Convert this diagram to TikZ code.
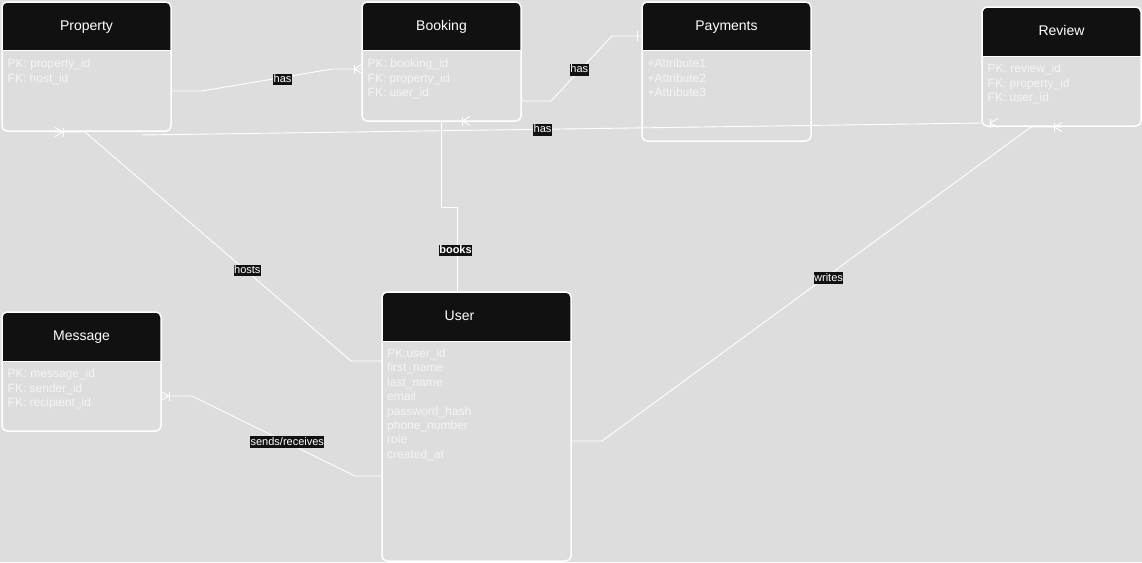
\documentclass[tikz,border=0pt]{standalone}
\usepackage{fontspec}
\setmainfont{Liberation Sans}
\definecolor{bgcol}{HTML}{DDDDDD}
\definecolor{hdrcol}{HTML}{111111}
\tikzset{
  hdr height/.store in=\hdrh, hdr height=48,
  entity/.style={draw=white, line width=1.5pt, rounded corners=5pt, anchor=north west,
    inner sep=0pt, outer sep=0pt,
    path picture={\fill[hdrcol, sharp corners] (path picture bounding box.north west)
        rectangle ([yshift=-\hdrh pt]path picture bounding box.north east);
      \draw[white, line width=0.8pt, sharp corners] ([yshift=-\hdrh pt]path picture bounding box.north west)
        -- ([yshift=-\hdrh pt]path picture bounding box.north east);}},
  title/.style={anchor=base, text=white, inner sep=0pt, font=\fontsize{14}{16}\selectfont},
  rows/.style={anchor=north west, text=white!96!black, align=left, inner sep=0pt, font=\fontsize{12}{14.4}\selectfont},
  conn/.style={draw=white, line width=0.9pt},
  rel/.style={fill=hdrcol, text=white, inner xsep=0.5pt, inner ysep=0.5pt,
    text height=8.3pt, text depth=2.5pt, font=\fontsize{11}{13}\selectfont},
  many/.pic={\draw[conn] (0,-4.5) -- (-8,0) -- (0,4.5); \draw[conn] (-8,-4.5) -- (-8,4.5);},
  one/.pic={\draw[conn] (-5,-5) -- (-5,5);}
}
\begin{document}
\begin{tikzpicture}[x=1pt, y=-1pt]
\useasboundingbox (0,0) rectangle (1142,562);
\fill[bgcol] (0,0) rectangle (1142,562);

% Draw entities
\node[entity, minimum width=169pt, minimum height=129pt] (prop) at (2,2) {};
\node[entity, minimum width=159pt, minimum height=119pt] (book) at (362,2) {};
\node[entity, minimum width=169pt, minimum height=139pt] (pay) at (642,2) {};
\node[entity, hdr height=49, minimum width=159pt, minimum height=119pt] (rev) at (982,7) {};
\node[entity, hdr height=49, minimum width=159pt, minimum height=119pt] (msg) at (2,312) {};
\node[entity, hdr height=49, minimum width=189pt, minimum height=269pt] (user) at (382,292) {};

% Entity titles
\node[title] (propT) at ([yshift=-28pt]prop.north) {Property};
\node[title] (bookT) at ([yshift=-28pt]book.north) {Booking};
\node[title] (payT) at ([yshift=-28pt]pay.north) {Payments};
\node[title] (revT) at ([yshift=-28pt]rev.north) {Review};
\node[title] (msgT) at ([yshift=-28pt]msg.north) {Message};
\node[title] (userT) at ([xshift=-17pt,yshift=-28pt]user.north) {User};

% Entity attributes
\node[rows] (propR) at ([xshift=5.5pt,yshift=-57pt]prop.north west) {PK: property\_id\\FK: host\_id};
\node[rows] (bookR) at ([xshift=5.5pt,yshift=-57pt]book.north west) {PK: booking\_id\\FK: property\_id\\FK: user\_id};
\node[rows] (payR) at ([xshift=5.5pt,yshift=-57pt]pay.north west) {+Attribute1\\+Attribute2\\+Attribute3};
\node[rows] (revR) at ([xshift=5.5pt,yshift=-57pt]rev.north west) {PK: review\_id\\FK: property\_id\\FK: user\_id};
\node[rows] (msgR) at ([xshift=5.5pt,yshift=-57pt]msg.north west) {PK: message\_id\\FK: sender\_id\\FK: recipient\_id};
\node[rows] (userR) at ([xshift=5pt,yshift=-56.5pt]user.north west) {PK:user\_id\\first\_name\\last\_name\\email\\password\_hash\\phone\_number\\role\\created\_at};

% Free ends below Property and Review
\coordinate (propEnd) at (142,135);
\coordinate (propHost) at (55,132);
\coordinate (revWrite) at (1062,127);

% Draw relationships
\draw[conn] ([yshift=-89pt]prop.north east) -- ++(31,0) -- (332,69) -- ([yshift=-67pt]book.north west);
\draw[conn] ([yshift=-99pt]book.north east) -- ++(30,0) -- (612,36) -- ([yshift=-34pt]pay.north west);
\draw[conn] ([yshift=3pt]rev.south west) -- (propEnd);
\draw[conn] ([xshift=-19.5pt]user.north) -- ++(0,-85) -| (book.south);
\draw[conn] ([yshift=-69pt]user.north west) -- ++(-31,0) -- (85,132) -- (propHost);
\draw[conn] ([yshift=-149pt]user.north east) -- ++(31,0) -- (1031,127) -- (revWrite);
\draw[conn] ([yshift=-184pt]user.north west) -- ++(-27,0) -- (192,396) -- ([yshift=-84pt]msg.north east);

% Cardinality marks
\pic at ([yshift=-67pt]book.north west) {many};
\pic at ([yshift=-34pt]pay.north west) {one};
\pic[rotate=180] at (propHost) {many};
\pic at ([xshift=28.5pt]book.south) {many};
\pic at ([xshift=16pt,yshift=3pt]rev.south west) {many};
\pic at (revWrite) {many};
\pic[rotate=180] at ([yshift=-84pt]msg.north east) {many};

% Relationship labels
\node[rel] (hasPB) at (282.5,79.5) {has};
\node[rel] (hasBP) at (579.3,70) {has};
\node[rel] (hasRP) at (542.5,130) {has};
\node[rel, font=\fontsize{11}{13}\selectfont\bfseries] (books) at (455.5,250.5) {books};
\node[rel] (hosts) at (247.3,270.5) {hosts};
\node[rel] (writes) at (828.5,278.3) {writes};
\node[rel] (sends) at (287.3,442.3) {sends/receives};
\end{tikzpicture}
\end{document}
